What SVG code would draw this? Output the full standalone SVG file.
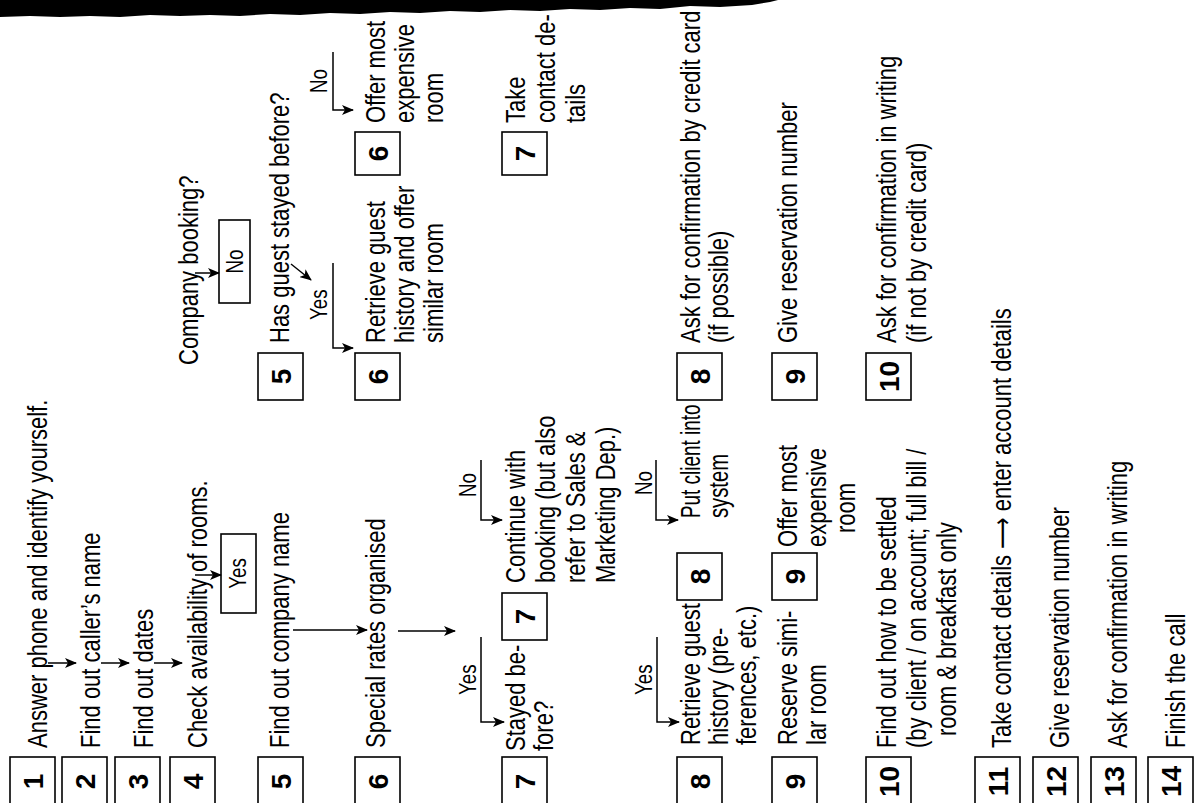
<svg xmlns="http://www.w3.org/2000/svg" width="1194" height="803" viewBox="0 0 1194 803">
<style>
.t{font-family:"Liberation Sans",Arial,"DejaVu Sans",sans-serif;font-size:27px;fill:#000}
.l{font-family:"Liberation Sans",Arial,"DejaVu Sans",sans-serif;font-size:23px;fill:#000}
.n{font-family:"Liberation Sans",Arial,sans-serif;font-size:28px;font-weight:bold;text-anchor:middle;fill:#000}
.ar{font-family:"DejaVu Sans",sans-serif}
.b{fill:none;stroke:#000;stroke-width:1.6}
.c{fill:none;stroke:#000;stroke-width:1.5}
</style>
<defs>
<marker id="ah" viewBox="0 0 12 10" refX="11" refY="5" markerWidth="12" markerHeight="10" markerUnits="userSpaceOnUse" orient="auto">
<path d="M0,0 L12,5 L0,10 L3,5 Z" fill="#000"/>
</marker>
</defs>
<rect width="1194" height="803" fill="#fff"/>
<path id="band" d="M0,0 H778 L770,2 L752,5 L720,7 L690,6 L660,9 L630,8 L600,10 L570,9 L540,11 L510,10 L480,12 L450,11 L420,13 L390,12 L360,14 L330,13 L300,15 L270,14 L240,16 L210,15 L180,16 L150,15 L120,17 L90,16 L60,17 L30,16 L0,17 Z" fill="#000"/>
<g transform="translate(0,803) rotate(-90)">
<g id="connectors">
<path class="c" d="M140,48 V76" marker-end="url(#ah)"/>
<path class="c" d="M140,101 V129" marker-end="url(#ah)"/>
<path class="c" d="M140,154 V182" marker-end="url(#ah)"/>
<path class="c" d="M228,195 V221" marker-end="url(#ah)"/>
<path class="c" d="M173,293 V367" marker-end="url(#ah)"/>
<path class="c" d="M172,398 V455" marker-end="url(#ah)"/>
<path class="c" d="M166,481 H81 V504" marker-end="url(#ah)"/>
<path class="c" d="M343,481 H283 V502" marker-end="url(#ah)"/>
<path class="c" d="M166,657 H81 V679" marker-end="url(#ah)"/>
<path class="c" d="M343,656 H283 V678" marker-end="url(#ah)"/>
<path class="c" d="M530,195 V219" marker-end="url(#ah)"/>
<path class="c" d="M539,291 L523,311" marker-end="url(#ah)"/>
<path class="c" d="M540,333 H455 V353" marker-end="url(#ah)"/>
<path class="c" d="M751,333 H693 V353" marker-end="url(#ah)"/>
<text class="l" transform="translate(108 476) scale(.815 1)">Yes</text>
<text class="l" transform="translate(306 476) scale(.815 1)">No</text>
<text class="l" transform="translate(108 652) scale(.815 1)">Yes</text>
<text class="l" transform="translate(308 652) scale(.815 1)">No</text>
<text class="l" transform="translate(483 327) scale(.815 1)">Yes</text>
<text class="l" transform="translate(710 327) scale(.815 1)">No</text>
</g>
<g id="n1"><rect class="b" x="-3" y="10" width="49" height="45"/><text class="n" x="21.5" y="42.5">1</text>
<text class="t" transform="translate(55 47) scale(.815 1)">Answer phone and identify yourself.</text></g>
<g id="n2"><rect class="b" x="-3" y="62" width="49" height="45"/><text class="n" x="21.5" y="94.5">2</text>
<text class="t" transform="translate(55 100) scale(.815 1)">Find out caller’s name</text></g>
<g id="n3"><rect class="b" x="-3" y="115" width="49" height="45"/><text class="n" x="21.5" y="147.5">3</text>
<text class="t" transform="translate(55 153) scale(.815 1)">Find out dates</text></g>
<g id="n4"><rect class="b" x="-3" y="170" width="49" height="45"/><text class="n" x="21.5" y="202.5">4</text>
<text class="t" transform="translate(55 207) scale(.815 1)">Check availability of rooms.</text></g>
<g id="yes4"><rect class="b" x="190" y="221" width="79" height="35"/>
<text class="l" text-anchor="middle" transform="translate(229.5 246) scale(.815 1)">Yes</text></g>
<g id="n5"><rect class="b" x="-3" y="258" width="49" height="45"/><text class="n" x="21.5" y="290.5">5</text>
<text class="t" transform="translate(55 289) scale(.815 1)">Find out company name</text></g>
<g id="company"><text class="t" transform="translate(438 198) scale(.815 1)">Company booking?</text></g>
<g id="no5"><rect class="b" x="500" y="219" width="83" height="31"/>
<text class="l" text-anchor="middle" transform="translate(541.5 243) scale(.815 1)">No</text></g>
<g id="n5b"><rect class="b" x="403" y="258" width="47" height="45"/><text class="n" x="426.5" y="290.5">5</text>
<text class="t" transform="translate(460 289) scale(.815 1)">Has guest stayed before?</text></g>
<g id="n6"><rect class="b" x="-3" y="355" width="49" height="45"/><text class="n" x="21.5" y="387.5">6</text>
<text class="t" transform="translate(55 385) scale(.815 1)">Special rates organised</text></g>
<g id="n6b"><rect class="b" x="403" y="355" width="47" height="45"/><text class="n" x="426.5" y="387.5">6</text>
<text class="t" transform="translate(460 385) scale(.815 1)">Retrieve guest</text>
<text class="t" transform="translate(460 414) scale(.815 1)">history and offer</text>
<text class="t" transform="translate(460 443) scale(.815 1)">similar room</text></g>
<g id="n6c"><rect class="b" x="628" y="355" width="43" height="45"/><text class="n" x="649.5" y="387.5">6</text>
<text class="t" transform="translate(680 385) scale(.815 1)">Offer most</text>
<text class="t" transform="translate(680 414) scale(.815 1)">expensive</text>
<text class="t" transform="translate(680 443) scale(.815 1)">room</text></g>
<g id="n7"><rect class="b" x="-3" y="502" width="49" height="45"/><text class="n" x="21.5" y="534.5">7</text>
<text class="t" transform="translate(52 525) scale(.815 1)">Stayed be-</text>
<text class="t" transform="translate(52 553) scale(.815 1)">fore?</text></g>
<g id="n7b"><rect class="b" x="163" y="502" width="47" height="45"/><text class="n" x="186.5" y="534.5">7</text>
<text class="t" transform="translate(220 525) scale(.815 1)">Continue with</text>
<text class="t" transform="translate(220 555) scale(.815 1)">booking (but also</text>
<text class="t" transform="translate(220 585) scale(.815 1)">refer to Sales &amp;</text>
<text class="t" transform="translate(220 615) scale(.815 1)">Marketing Dep.)</text></g>
<g id="n7c"><rect class="b" x="628" y="502" width="43" height="45"/><text class="n" x="649.5" y="534.5">7</text>
<text class="t" transform="translate(680 525) scale(.815 1)">Take</text>
<text class="t" transform="translate(680 555) scale(.815 1)">contact de-</text>
<text class="t" transform="translate(680 585) scale(.815 1)">tails</text></g>
<g id="n8"><rect class="b" x="-3" y="677" width="49" height="45"/><text class="n" x="21.5" y="709.5">8</text>
<text class="t" transform="translate(58 700) scale(.815 1)">Retrieve guest</text>
<text class="t" transform="translate(58 728) scale(.815 1)">history (pre-</text>
<text class="t" transform="translate(58 756) scale(.815 1)">ferences, etc.)</text></g>
<g id="n8b"><rect class="b" x="203" y="677" width="47" height="45"/><text class="n" x="226.5" y="709.5">8</text>
<text class="t" transform="translate(285 700) scale(.7 1)">Put client into</text>
<text class="t" transform="translate(285 728) scale(.75 1)">system</text></g>
<g id="n8c"><rect class="b" x="403" y="677" width="47" height="45"/><text class="n" x="426.5" y="709.5">8</text>
<text class="t" transform="translate(460 700) scale(.815 1)">Ask for confirmation by credit card</text>
<text class="t" transform="translate(460 728) scale(.815 1)">(if possible)</text></g>
<g id="n9"><rect class="b" x="-3" y="772" width="49" height="45"/><text class="n" x="21.5" y="804.5">9</text>
<text class="t" transform="translate(58 797) scale(.815 1)">Reserve simi-</text>
<text class="t" transform="translate(58 826) scale(.815 1)">lar room</text></g>
<g id="n9b"><rect class="b" x="203" y="772" width="47" height="45"/><text class="n" x="226.5" y="804.5">9</text>
<text class="t" transform="translate(256 797) scale(.815 1)">Offer most</text>
<text class="t" transform="translate(256 826) scale(.815 1)">expensive</text>
<text class="t" transform="translate(270 855) scale(.815 1)">room</text></g>
<g id="n9c"><rect class="b" x="403" y="772" width="47" height="45"/><text class="n" x="426.5" y="804.5">9</text>
<text class="t" transform="translate(460 797) scale(.815 1)">Give reservation number</text></g>
<g id="n10"><rect class="b" x="-3" y="866" width="49" height="45"/><text class="n" x="21.5" y="898.5">10</text>
<text class="t" transform="translate(55 896) scale(.815 1)">Find out how to be settled</text>
<text class="t" transform="translate(55 926) scale(.815 1)">(by client / on account; full bill /</text>
<text class="t" transform="translate(67 956) scale(.815 1)">room &amp; breakfast only</text></g>
<g id="n10b"><rect class="b" x="403" y="866" width="47" height="45"/><text class="n" x="426.5" y="898.5">10</text>
<text class="t" transform="translate(460 896) scale(.815 1)">Ask for confirmation in writing</text>
<text class="t" transform="translate(460 926) scale(.815 1)">(if not by credit card)</text></g>
<g id="n11"><rect class="b" x="-3" y="975" width="49" height="45"/><text class="n" x="21.5" y="1007.5">11</text>
<text class="t" transform="translate(55 1011) scale(.815 1)">Take contact details <tspan class="ar">⟶</tspan> enter account details</text></g>
<g id="n12"><rect class="b" x="-3" y="1033" width="49" height="45"/><text class="n" x="21.5" y="1065.5">12</text>
<text class="t" transform="translate(55 1069) scale(.815 1)">Give reservation number</text></g>
<g id="n13"><rect class="b" x="-3" y="1091" width="49" height="45"/><text class="n" x="21.5" y="1123.5">13</text>
<text class="t" transform="translate(55 1127) scale(.815 1)">Ask for confirmation in writing</text></g>
<g id="n14"><rect class="b" x="-3" y="1148" width="49" height="45"/><text class="n" x="21.5" y="1180.5">14</text>
<text class="t" transform="translate(55 1185) scale(.815 1)">Finish the call</text></g>
</g>
</svg>
